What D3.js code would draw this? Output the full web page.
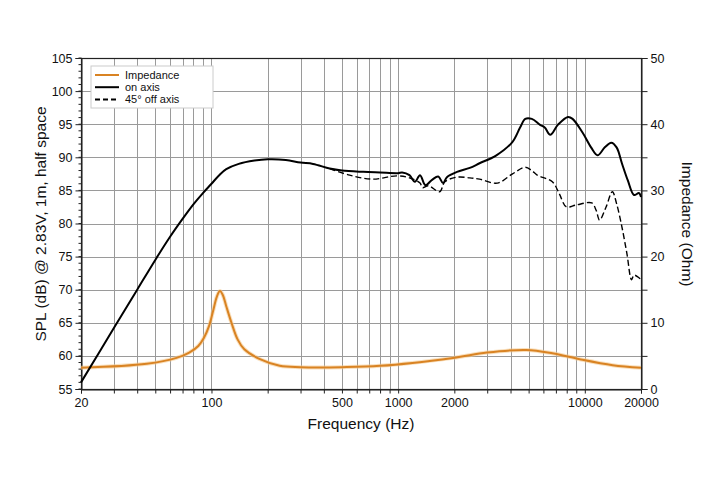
<!DOCTYPE html>
<html>
<head>
<meta charset="utf-8">
<script src="https://cdn.jsdelivr.net/npm/d3@7"></script>
<style>
  body { margin: 0; background: #fff; }
  svg text { font-family: "Liberation Sans", Arial, sans-serif; fill: #111; }
</style>
</head>
<body>
<svg id="chart" width="720" height="479"></svg>
<script>
// Data ------------------------------------------------------------
const onFreq = [20, 30, 40, 50, 60, 70, 80, 90, 100, 110, 120, 140, 170, 200, 250, 300, 350, 430, 500, 650, 800, 1000, 1050, 1150, 1230, 1310, 1400, 1520, 1640, 1740, 1825, 2066, 2420, 2730, 3360, 4090, 4500, 4800, 5200, 5760, 6100, 6530, 7170, 8120, 8600, 9740, 10800, 11700, 12800, 13850, 14800, 15800, 17000, 18350, 19500, 20000];
const onSpl  = [56.0, 64.2, 70.0, 74.5, 78.0, 80.7, 82.9, 84.6, 86.0, 87.3, 88.2, 89.0, 89.5, 89.7, 89.6, 89.2, 89.0, 88.3, 88.0, 87.8, 87.7, 87.6, 87.7, 87.3, 86.3, 87.3, 85.8, 86.6, 87.1, 86.1, 87.0, 87.8, 88.4, 89.1, 90.3, 92.3, 94.5, 95.8, 95.8, 94.9, 94.5, 93.4, 94.9, 96.1, 95.8, 93.7, 91.5, 90.3, 91.5, 92.2, 91.5, 89.1, 86.5, 84.3, 84.6, 84.0];

const offFreq = [430, 550, 730, 985, 1150, 1310, 1350, 1450, 1670, 1780, 2066, 2420, 2730, 3400, 4100, 4800, 5200, 5560, 6700, 7300, 7970, 9000, 10900, 11500, 12000, 13000, 14050, 14800, 15800, 16800, 17800, 18350, 19500, 20000];
const offSpl  = [88.3, 87.3, 86.7, 87.2, 86.9, 86.1, 85.4, 85.7, 84.8, 86.3, 87.0, 86.9, 86.7, 86.1, 87.5, 88.5, 88.0, 87.3, 86.3, 84.5, 82.5, 82.8, 83.1, 82.0, 80.5, 82.5, 84.8, 83.0, 79.5, 75.5, 71.5, 72.2, 71.8, 71.5];

const zFreq = [20, 45, 65, 76, 85, 91, 97, 102, 107, 111, 115, 120, 128, 138, 150, 182, 232, 300, 500, 800, 1968, 2990, 4860, 6700, 9400, 14100, 20000];
const zOhm  = [3.2, 3.8, 4.7, 5.5, 6.5, 7.7, 9.5, 11.8, 14.0, 14.8, 14.2, 12.5, 10.0, 7.5, 6.0, 4.5, 3.5, 3.3, 3.3, 3.5, 4.7, 5.5, 5.9, 5.4, 4.5, 3.6, 3.2];

const gridFreqs = [20, 30, 40, 50, 60, 70, 80, 90, 100, 200, 300, 400, 500, 600, 700, 800, 900, 1000,
                   2000, 3000, 4000, 5000, 6000, 7000, 8000, 9000, 10000, 20000];
const freqLabels = [20, 100, 500, 1000, 2000, 10000, 20000];
const splTicks = d3.range(55, 106, 5);
const ohmTicks = d3.range(0, 51, 10);

const legendItems = [
  { label: "Impedance", color: "#d98323", dash: null },
  { label: "on axis", color: "#000", dash: null },
  { label: "45° off axis", color: "#000", dash: "5,3" }
];
// ------------------------------------------------------------

const svg = d3.select("#chart");
const m = { left: 81, right: 641, top: 58, bottom: 389 };

const x = d3.scaleLog().domain([20, 20000]).range([m.left, m.right]);
const y = d3.scaleLinear().domain([55, 105]).range([m.bottom, m.top]);
const yZ = d3.scaleLinear().domain([0, 50]).range([m.bottom, m.top]);

// mriežka
const grid = svg.append("g").attr("stroke", "#9a9a9a").attr("stroke-width", 1);
grid.selectAll("line.v").data(gridFreqs).join("line").attr("class", "v")
  .attr("x1", d => Math.round(x(d)) + 0.5).attr("x2", d => Math.round(x(d)) + 0.5)
  .attr("y1", m.top).attr("y2", m.bottom);
grid.selectAll("line.h").data(splTicks).join("line").attr("class", "h")
  .attr("x1", m.left).attr("x2", m.right)
  .attr("y1", d => Math.round(y(d)) + 0.5).attr("y2", d => Math.round(y(d)) + 0.5);

// rám
svg.append("rect")
  .attr("x", m.left + 0.5).attr("y", m.top + 0.5)
  .attr("width", m.right - m.left).attr("height", m.bottom - m.top)
  .attr("fill", "none").attr("stroke", "#222").attr("stroke-width", 1.2);

// ľavá os s malými tickmi
const leftAxis = svg.append("g").attr("transform", `translate(${m.left + 0.5},0)`)
  .call(d3.axisLeft(y).tickValues(splTicks).tickSize(6).tickPadding(3));
leftAxis.append("g").selectAll("line").data(d3.range(55, 106, 1)).join("line")
  .attr("x1", -3).attr("x2", 0)
  .attr("y1", d => y(d)).attr("y2", d => y(d)).attr("stroke", "#222");

// pravá os
svg.append("g").attr("transform", `translate(${m.right + 0.5},0)`)
  .call(d3.axisRight(yZ).tickValues(d3.range(0, 51, 5)).tickSize(6).tickPadding(3)
    .tickFormat(d => ohmTicks.includes(d) ? d : ""));

// spodná os
svg.append("g").attr("transform", `translate(0,${m.bottom + 0.5})`)
  .call(d3.axisBottom(x).tickValues(gridFreqs).tickSize(4).tickPadding(5)
    .tickFormat(d => freqLabels.includes(d) ? d : ""));

svg.selectAll(".domain").attr("stroke", "#222");
svg.selectAll(".tick line").attr("stroke", "#222");
svg.selectAll(".tick text").attr("font-size", 12.5).attr("fill", "#111");

// krivky
const line = (fx, fy) => d3.line().x((d, i) => x(fx[i])).y(d => fy(d)).curve(d3.curveCatmullRom);

svg.append("path").datum(zOhm)
  .attr("d", line(zFreq, yZ))
  .attr("fill", "none").attr("stroke", "#f5c98f").attr("stroke-width", 4).attr("opacity", 0.6);
svg.append("path").datum(zOhm)
  .attr("d", line(zFreq, yZ))
  .attr("fill", "none").attr("stroke", "#d98323").attr("stroke-width", 2);

svg.append("path").datum(offSpl)
  .attr("d", line(offFreq, y))
  .attr("fill", "none").attr("stroke", "#000").attr("stroke-width", 1.4)
  .attr("stroke-dasharray", "6,3");

svg.append("path").datum(onSpl)
  .attr("d", line(onFreq, y))
  .attr("fill", "none").attr("stroke", "#000").attr("stroke-width", 2);

// legenda
const lg = svg.append("g").attr("transform", "translate(91,66)");
lg.append("rect").attr("width", 122).attr("height", 42)
  .attr("fill", "#fff").attr("stroke", "#ccc");
legendItems.forEach((it, i) => {
  const yy = 9 + i * 12.2;
  lg.append("line").attr("x1", 4).attr("x2", 28).attr("y1", yy).attr("y2", yy)
    .attr("stroke", it.color).attr("stroke-width", 2)
    .attr("stroke-dasharray", it.dash);
  lg.append("text").attr("x", 34).attr("y", yy + 4).attr("font-size", 11).text(it.label);
});

// popisy osí
svg.append("text").attr("transform", "translate(46,224) rotate(-90)")
  .attr("text-anchor", "middle").attr("font-size", 15.5)
  .text("SPL (dB) @ 2.83V, 1m, half space");
svg.append("text").attr("transform", "translate(682,224) rotate(90)")
  .attr("text-anchor", "middle").attr("font-size", 15.5)
  .text("Impedance (Ohm)");
svg.append("text").attr("x", 361).attr("y", 429)
  .attr("text-anchor", "middle").attr("font-size", 15.5)
  .text("Frequency (Hz)");
</script>
</body>
</html>
